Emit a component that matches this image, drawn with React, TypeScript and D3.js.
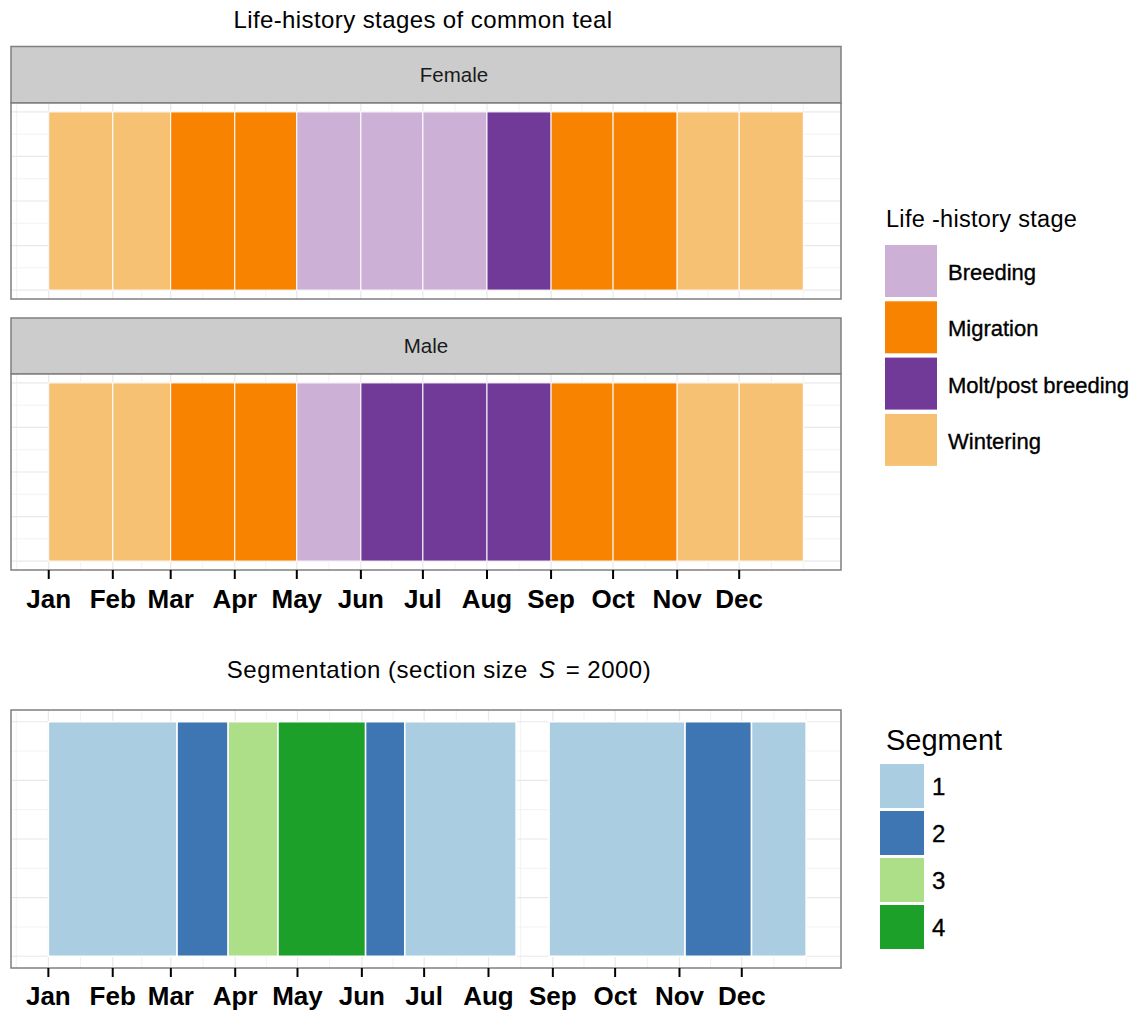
import React from "react";
import * as d3 from "d3";

const months = ["Jan", "Feb", "Mar", "Apr", "May", "Jun", "Jul", "Aug", "Sep", "Oct", "Nov", "Dec"];
const monthStartDays = [0, 31, 59, 90, 120, 151, 181, 212, 243, 273, 304, 334, 365];

const stageNames = ["Breeding", "Migration", "Molt/post breeding", "Wintering"];
const stageColors = ["#CCB0D6", "#F88300", "#713A99", "#F6C172"];

const femaleStages = ["Wintering", "Wintering", "Migration", "Migration", "Breeding", "Breeding", "Breeding", "Molt/post breeding", "Migration", "Migration", "Wintering", "Wintering"];
const maleStages = ["Wintering", "Wintering", "Migration", "Migration", "Breeding", "Molt/post breeding", "Molt/post breeding", "Molt/post breeding", "Migration", "Migration", "Wintering", "Wintering"];
const sexes = ["Female", "Male"];

const segStart = [0, 62, 86.6, 110.6, 152.8, 171.7, 241.2, 306.7, 338.7];
const segEnd = [62, 86.6, 110.6, 152.8, 171.7, 225.3, 306.7, 338.7, 365];
const segIds = ["1", "2", "3", "4", "2", "1", "1", "2", "1"];
const segNames = ["1", "2", "3", "4"];
const segColors = ["#ABCDE1", "#3E76B4", "#ADDF89", "#1CA029"];

const FONT = "'Liberation Sans', Arial, Helvetica, sans-serif";
const W = 1134;
const H = 1010;
const PL = 11;
const PR = 841;

const stageColor = d3.scaleOrdinal<string, string>().domain(stageNames).range(stageColors);
const segColor = d3.scaleOrdinal<string, string>().domain(segNames).range(segColors);

const majorY = [0, 0.25, 0.5, 0.75, 1];
const minorY = [0.125, 0.375, 0.625, 0.875];

function minorDays(): number[] {
  const out: number[] = [-15.5];
  for (let i = 0; i < monthStartDays.length - 1; i++) {
    out.push((monthStartDays[i] + monthStartDays[i + 1]) / 2);
  }
  out.push(365);
  return out;
}

function Grid({ x, y, top, bottom }: { x: d3.ScaleLinear<number, number>; y: d3.ScaleLinear<number, number>; top: number; bottom: number }) {
  const majX = monthStartDays.slice(0, 12);
  return (
    <g>
      {minorDays().map((d, i) => (
        <line key={"mx" + i} x1={x(d)} x2={x(d)} y1={top} y2={bottom} stroke="#f2f2f2" strokeWidth={1} />
      ))}
      {minorY.map((v, i) => (
        <line key={"my" + i} x1={PL} x2={PR} y1={y(v)} y2={y(v)} stroke="#f2f2f2" strokeWidth={1} />
      ))}
      {majX.map((d, i) => (
        <line key={"Mx" + i} x1={x(d)} x2={x(d)} y1={top} y2={bottom} stroke="#e8e8e8" strokeWidth={1.2} />
      ))}
      {majorY.map((v, i) => (
        <line key={"My" + i} x1={PL} x2={PR} y1={y(v)} y2={y(v)} stroke="#e8e8e8" strokeWidth={1.2} />
      ))}
    </g>
  );
}

function Axis({ x, y0, baseline }: { x: d3.ScaleLinear<number, number>; y0: number; baseline: number }) {
  return (
    <g>
      {months.map((m, i) => {
        const px = x(monthStartDays[i]);
        return (
          <g key={m}>
            <line x1={px} x2={px} y1={y0} y2={y0 + 9} stroke="#000" strokeWidth={2} />
            <text x={px} y={baseline} textAnchor="middle" fontFamily={FONT} fontWeight="bold" fontSize={26} fill="#000">
              {m}
            </text>
          </g>
        );
      })}
    </g>
  );
}

export default function App() {
  const xTop = d3.scaleLinear().domain([-18.25, 383.25]).range([PL, PR]);
  const xBot = d3.scaleLinear().domain([-18, 381.8]).range([PL, PR]);

  const facets = [
    { name: sexes[0], stages: femaleStages, stripTop: 46.5, panelTop: 103, panelBottom: 299, labelX: 454 },
    { name: sexes[1], stages: maleStages, stripTop: 318, panelTop: 374, panelBottom: 570, labelX: 426 },
  ];

  const botTop = 710;
  const botBottom = 968;
  const yBot = d3.scaleLinear().domain([-0.05, 1.05]).range([botBottom, botTop]);

  return (
    <svg width={W} height={H} style={{ position: "absolute", left: 0, top: 0, background: "#fff" }}>
      <rect x={0} y={0} width={W} height={H} fill="#fff" />
      <text x={423} y={28} textAnchor="middle" fontFamily={FONT} fontSize={24} letterSpacing={0.4} fill="#000">
        Life-history stages of common teal
      </text>

      {facets.map((f) => {
        const y = d3.scaleLinear().domain([-0.05, 1.05]).range([f.panelBottom, f.panelTop]);
        return (
          <g key={f.name}>
            <rect x={PL} y={f.stripTop} width={PR - PL} height={f.panelTop - f.stripTop} fill="#cccccc" stroke="#7f7f7f" strokeWidth={1.5} />
            <text x={f.labelX} y={(f.stripTop + f.panelTop) / 2 + 7} textAnchor="middle" fontFamily={FONT} fontSize={20.5} fill="#1a1a1a">
              {f.name}
            </text>
            <rect x={PL} y={f.panelTop} width={PR - PL} height={f.panelBottom - f.panelTop} fill="#fff" />
            <Grid x={xTop} y={y} top={f.panelTop} bottom={f.panelBottom} />
            {f.stages.map((s, i) => (
              <rect
                key={i}
                x={xTop(monthStartDays[i])}
                y={y(1)}
                width={xTop(monthStartDays[i + 1]) - xTop(monthStartDays[i])}
                height={y(0) - y(1)}
                fill={stageColor(s)}
                stroke="#fff"
                strokeWidth={1}
              />
            ))}
            <rect x={PL} y={f.panelTop} width={PR - PL} height={f.panelBottom - f.panelTop} fill="none" stroke="#7f7f7f" strokeWidth={1.5} />
          </g>
        );
      })}
      <Axis x={xTop} y0={570} baseline={608} />

      <text x={886} y={227} fontFamily={FONT} fontSize={23.5} letterSpacing={0.3} fill="#000">
        Life -history stage
      </text>
      {stageNames.map((s, i) => {
        const top = 245 + i * 56.3;
        return (
          <g key={s}>
            <rect x={885} y={top} width={52} height={52} fill={stageColor(s)} />
            <text x={948} y={top + 26 + 9} fontFamily={FONT} fontSize={22} fill="#000" stroke="#000" strokeWidth={0.35}>
              {s}
            </text>
          </g>
        );
      })}

      <text x={439} y={678} textAnchor="middle" fontFamily={FONT} fontSize={24} letterSpacing={0.5} fill="#000">
        <tspan>Segmentation (section size </tspan>
        <tspan fontStyle="italic" dx={4}>S</tspan>
        <tspan dx={10}>= 2000)</tspan>
      </text>

      <rect x={PL} y={botTop} width={PR - PL} height={botBottom - botTop} fill="#fff" />
      <Grid x={xBot} y={yBot} top={botTop} bottom={botBottom} />
      {segIds.map((s, i) => (
        <rect
          key={i}
          x={xBot(segStart[i])}
          y={yBot(1)}
          width={xBot(segEnd[i]) - xBot(segStart[i])}
          height={yBot(0) - yBot(1)}
          fill={segColor(s)}
          stroke="#fff"
          strokeWidth={1.5}
        />
      ))}
      <rect x={PL} y={botTop} width={PR - PL} height={botBottom - botTop} fill="none" stroke="#7f7f7f" strokeWidth={1.5} />
      <Axis x={xBot} y0={968} baseline={1005} />

      <text x={886} y={750} fontFamily={FONT} fontSize={29} fill="#000">
        Segment
      </text>
      {segNames.map((s, i) => {
        const top = 764 + i * 47;
        return (
          <g key={s}>
            <rect x={880} y={top} width={44} height={44} fill={segColor(s)} />
            <text x={932} y={top + 22 + 9} fontFamily={FONT} fontSize={24} fill="#000" stroke="#000" strokeWidth={0.35}>
              {s}
            </text>
          </g>
        );
      })}
    </svg>
  );
}
